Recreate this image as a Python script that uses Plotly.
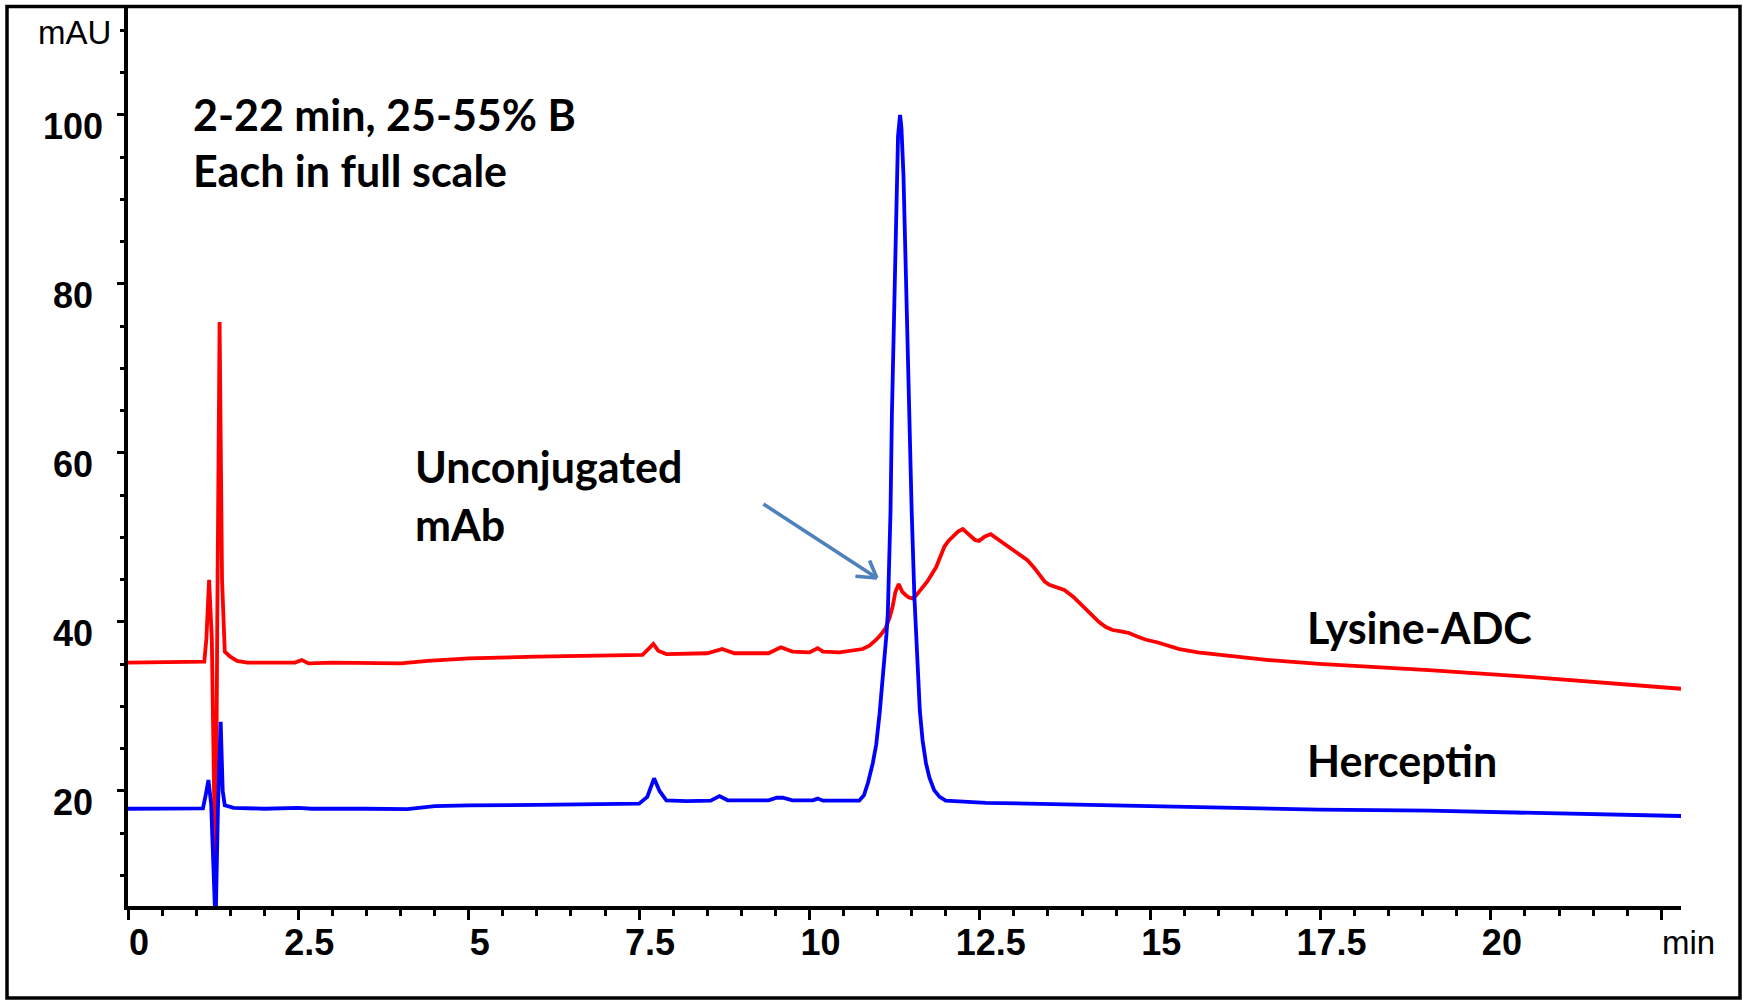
import plotly.graph_objects as go

# Lysine-ADC chromatogram: retention time (min) and absorbance (mAU)
adc_time = [0.0, 0.5, 1.0, 1.12, 1.15, 1.19, 1.23, 1.285, 1.31, 1.344, 1.38, 1.42,
            1.50, 1.60, 1.75, 2.0, 2.45, 2.55, 2.65, 3.0, 3.5, 4.0, 4.4, 5.0, 6.0,
            7.0, 7.55, 7.65, 7.71, 7.78, 7.9, 8.5, 8.72, 8.9, 9.4, 9.58, 9.75, 10.0,
            10.12, 10.2, 10.44, 10.78, 10.88, 10.98, 11.05, 11.12, 11.18, 11.22, 11.26,
            11.31, 11.36, 11.41, 11.46, 11.51, 11.56, 11.61, 11.73, 11.86, 11.92,
            11.98, 12.04, 12.1, 12.18, 12.25, 12.31, 12.37, 12.43, 12.49, 12.57,
            12.66, 12.75, 12.88, 13.05, 13.2, 13.3, 13.37, 13.45, 13.52, 13.62,
            13.74, 13.87, 14.0, 14.12, 14.25, 14.35, 14.45, 14.57, 14.69, 14.8,
            14.94, 15.1, 15.23, 15.43, 15.7, 16.01, 16.74, 17.48, 19.09, 20.56, 22.79]
adc_mau = [35.2, 35.2, 35.3, 35.3, 38.0, 45.0, 38.0, 7.7, 40.0, 75.5, 45.0, 36.5,
           35.9, 35.4, 35.2, 35.2, 35.2, 35.5, 35.1, 35.2, 35.2, 35.1, 35.4, 35.7, 35.9,
           36.1, 36.1, 36.9, 37.4, 36.6, 36.2, 36.3, 36.8, 36.3, 36.3, 37.0, 36.5, 36.4,
           36.9, 36.5, 36.4, 36.8, 37.2, 37.9, 38.5, 39.3, 40.6, 41.8, 43.5,
           44.5, 43.6, 43.2, 42.9, 42.8, 43.1, 43.6, 44.8, 46.5, 47.8,
           48.9, 49.6, 50.1, 50.7, 51.0, 50.6, 50.1, 49.7, 49.6, 50.1,
           50.4, 49.9, 49.1, 48.2, 47.3, 46.4, 45.6, 44.8, 44.4, 44.1,
           43.8, 43.0, 42.0, 41.0, 40.0, 39.4, 39.05, 38.9, 38.7, 38.3,
           37.9, 37.6, 37.3, 36.8, 36.4, 36.1, 35.5, 35.05, 34.3, 33.5, 32.1]

# Herceptin chromatogram: retention time (min) and absorbance (mAU)
her_time = [0.0, 0.5, 1.0, 1.10, 1.14, 1.18, 1.22, 1.285, 1.32, 1.36, 1.39, 1.42,
            1.55, 2.0, 2.5, 2.7, 3.5, 4.1, 4.5, 5.0, 6.0, 7.0, 7.5, 7.62, 7.72, 7.8,
            7.9, 8.2, 8.55, 8.68, 8.8, 9.4, 9.52, 9.61, 9.75, 10.05, 10.12, 10.2,
            10.5, 10.73, 10.80, 10.86, 10.93, 10.98, 11.03, 11.07, 11.10, 11.13,
            11.15, 11.17, 11.19, 11.21, 11.23, 11.25, 11.28, 11.30, 11.33, 11.35,
            11.38, 11.42, 11.46, 11.50, 11.54, 11.59, 11.62, 11.66, 11.71, 11.76,
            11.83, 11.91, 12.0, 12.59, 15.03, 17.48, 19.09, 21.04, 22.79]
her_mau = [17.9, 17.9, 17.9, 17.95, 19.5, 21.3, 18.5, 4.0, 18.0, 28.2, 20.0, 18.3,
           18.0, 17.9, 18.0, 17.9, 17.9, 17.85, 18.2, 18.3, 18.35, 18.4, 18.5, 19.3, 21.5, 20.0,
           18.9, 18.8, 18.85, 19.4, 18.9, 18.9, 19.2, 19.2, 18.9, 18.9, 19.1, 18.85,
           18.8, 18.85, 19.5, 21.0, 23.3, 25.5, 29.2, 32.5, 35.1, 38.5,
           41.0, 47.0, 53.2, 64.5, 73.0, 81.5, 92.8, 97.5, 100.0, 98.5,
           92.8, 78.7, 64.5, 53.2, 43.0, 33.4, 29.5, 26.0, 23.3, 21.6,
           20.1, 19.3, 18.85, 18.6, 18.2, 17.8, 17.67, 17.36, 17.04]

# Axis ticks
x_tick_vals = [0, 2.5, 5, 7.5, 10, 12.5, 15, 17.5, 20, 22.5]
x_tick_text = ["0", "2.5", "5", "7.5", "10", "12.5", "15", "17.5", "20", ""]
y_tick_vals = [20, 40, 60, 80, 100]
y_tick_text = ["20\u00a0", "40\u00a0", "60\u00a0", "80\u00a0", "100"]

# Plot-area geometry in pixels
W, H = 1743, 1001
L, R, T, B = 128, 62, 8, 95
PW, PH = W - L - R, H - T - B


def px(x):
    return (x - L) / PW


def py(y):
    return (H - B - y) / PH


fig = go.Figure()
fig.add_trace(go.Scatter(x=adc_time, y=adc_mau, mode="lines", name="Lysine-ADC",
                         line=dict(color="#FF0000", width=3.8)))
fig.add_trace(go.Scatter(x=her_time, y=her_mau, mode="lines", name="Herceptin",
                         line=dict(color="#0000FF", width=3.8)))

tick_font = dict(family="Liberation Sans, Arial, sans-serif", size=36,
                 color="black", weight="bold")

fig.update_xaxes(
    range=[0, 22.79], showgrid=False, zeroline=False,
    showline=True, linewidth=3.5, linecolor="black",
    tickmode="array", tickvals=x_tick_vals, ticktext=x_tick_text,
    ticks="outside", ticklen=10, tickwidth=3, tickcolor="black",
    tickfont=tick_font, ticklabelshift=11, ticklabelstandoff=-8,
    minor=dict(tickmode="linear", tick0=0, dtick=0.5, ticks="outside",
               ticklen=6, tickwidth=3, tickcolor="black"),
)
fig.update_yaxes(
    range=[6.39, 112.66], showgrid=False, zeroline=False,
    showline=True, linewidth=3.5, linecolor="black",
    tickmode="array", tickvals=y_tick_vals, ticktext=y_tick_text,
    ticks="outside", ticklen=7, tickwidth=3, tickcolor="black",
    tickfont=tick_font, ticklabelshift=11, ticklabelstandoff=7,
    minor=dict(tickmode="linear", tick0=0, dtick=5, ticks="outside",
               ticklen=4, tickwidth=3, tickcolor="black"),
)

label_font = dict(family="Lato, Open Sans, sans-serif", size=43, color="black",
                  weight="bold")
unit_font = dict(family="Liberation Sans, Arial, sans-serif", size=33, color="black")

annotations = [
    dict(text="2-22 min, 25-55% B", x=px(191), y=py(114), font=label_font),
    dict(text="Each in full scale", x=px(191), y=py(170.5), font=label_font),
    dict(text="Unconjugated", x=px(413), y=py(466), font=label_font),
    dict(text="mAb", x=px(413), y=py(524), font=label_font),
    dict(text="Lysine-ADC", x=px(1305), y=py(627), font=label_font),
    dict(text="Herceptin", x=px(1305), y=py(760.5), font=label_font),
]
for a in annotations:
    fig.add_annotation(xref="paper", yref="paper", xanchor="left", yanchor="middle",
                       showarrow=False, **a)

fig.add_annotation(text="mAU", xref="paper", yref="paper", x=px(74), y=py(33),
                   xanchor="center", yanchor="middle", showarrow=False, font=unit_font)
fig.add_annotation(text="min", xref="paper", yref="paper", x=px(1688), y=py(943),
                   xanchor="center", yanchor="middle", showarrow=False, font=unit_font)

# Arrow pointing at the unconjugated antibody shoulder: shaft plus open head
arrow_tip_t, arrow_tip_mau = 10.99, 45.2
for ax, ay in [(-115, -75), (-23, -2), (-8, -19)]:
    fig.add_annotation(x=arrow_tip_t, y=arrow_tip_mau, xref="x", yref="y", text="",
                       showarrow=True, ax=ax, ay=ay, arrowhead=0, arrowwidth=3.6,
                       arrowcolor="#4F81BD", standoff=0, startstandoff=0)

# Outer frame around the whole figure
fig.add_shape(type="rect", xref="paper", yref="paper",
              x0=px(7), x1=px(1740), y0=py(998), y1=py(6.5),
              line=dict(color="black", width=3.5), fillcolor="rgba(0,0,0,0)")

fig.update_layout(
    width=W, height=H, autosize=False,
    margin=dict(l=L, r=R, t=T, b=B, pad=0),
    paper_bgcolor="white", plot_bgcolor="white",
    showlegend=False,
)

fig.write_html("out.html")
